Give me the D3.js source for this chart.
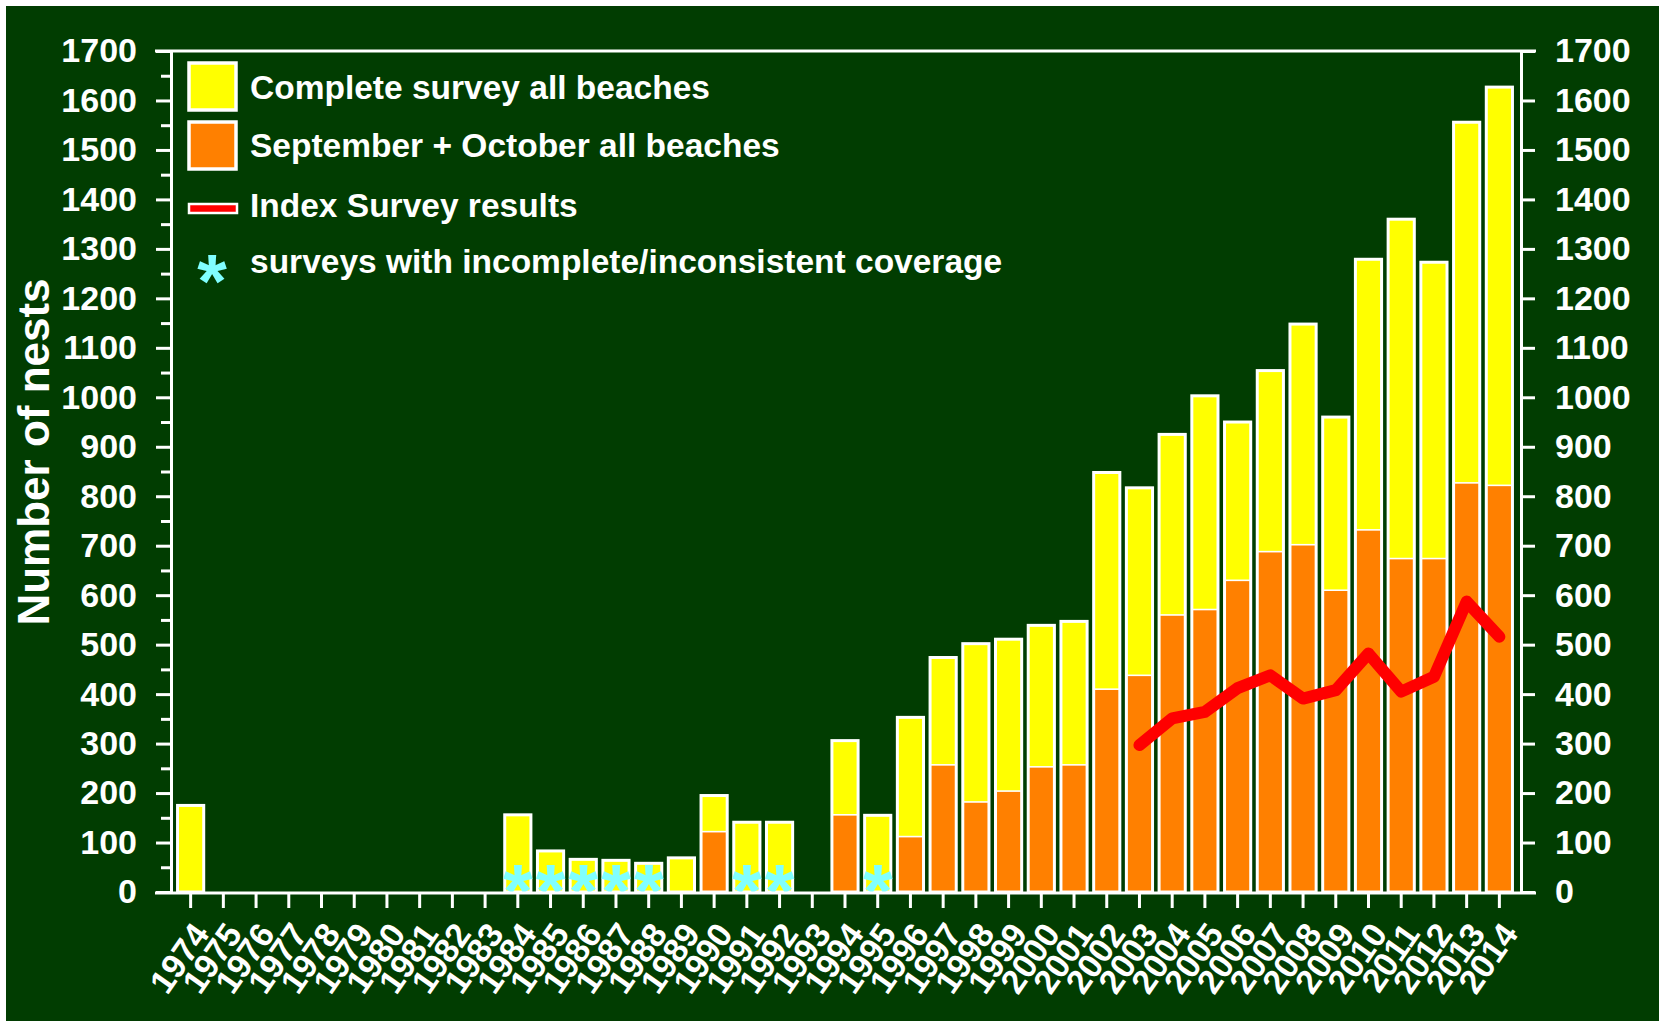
<!DOCTYPE html>
<html>
<head>
<meta charset="utf-8">
<script src="https://cdn.jsdelivr.net/npm/d3@7"></script>
<style>
  html, body { margin: 0; padding: 0; background: #ffffff; }
  svg { display: block; }
  text { font-family: "Liberation Sans", Arial, sans-serif; font-weight: bold; fill: #ffffff; }
</style>
</head>
<body>
<svg id="chart" width="1659" height="1021"></svg>
<script>
// ---------------- data ----------------
const years = d3.range(1974, 2015);
const completeSurvey = [
  175, 0, 0, 0, 0, 0, 0, 0, 0, 0,          // 1974-1983
  156, 83, 66, 64, 58, 69, 195, 141, 141, 0, // 1984-1993
  306, 155, 353, 474, 502, 511, 539, 547, 848, 817, // 1994-2003
  925, 1003, 950, 1054, 1148, 960, 1279, 1360, 1273, 1556, // 2004-2013
  1627 // 2014
];
const septOct = [
  0, 0, 0, 0, 0, 0, 0, 0, 0, 0,
  0, 0, 0, 0, 0, 0, 122, 0, 0, 0,
  156, 0, 112, 257, 182, 204, 253, 257, 410, 438,
  560, 571, 630, 688, 702, 610, 732, 674, 674, 827,
  822
];
const indexYears = [2003, 2004, 2005, 2006, 2007, 2008, 2009, 2010, 2011, 2012, 2013, 2014];
const indexValues = [297, 351, 364, 412, 438, 391, 408, 482, 405, 435, 587, 516];
const incompleteYears = [1984, 1985, 1986, 1987, 1988, 1991, 1992, 1995];
const yTicks = d3.range(0, 1701, 100);
const yMinorTicks = d3.range(50, 1700, 100);
const legendLabels = [
  "Complete survey all beaches",
  "September + October all beaches",
  "Index Survey results",
  "surveys with incomplete/inconsistent coverage"
];
const yTitle = "Number of nests";

// ---------------- layout ----------------
const BG = "#013d01", YELLOW = "#ffff00", ORANGE = "#ff8000", RED = "#ff0000", CYAN = "#80ffff";
const svg = d3.select("#chart");
svg.append("rect").attr("x", 6).attr("y", 6).attr("width", 1653).attr("height", 1015).attr("fill", BG);

const plotLeft = 171, plotRight = 1521, plotTop = 51, plotBottom = 892;
const x = d3.scaleBand().domain(years).range([171, 1519]).padding(0.2);
const y = d3.scaleLinear().domain([0, 1700]).range([plotBottom, plotTop]);

const rows = years.map((yr, i) => ({ year: yr, total: completeSurvey[i], so: septOct[i] }));
const bars = rows.filter(d => d.total > 0);

const g = svg.append("g");
g.selectAll("rect.tot").data(bars).join("rect").attr("class", "tot")
  .attr("x", d => x(d.year)).attr("width", x.bandwidth())
  .attr("y", d => y(d.total)).attr("height", d => y(0) - y(d.total))
  .attr("fill", YELLOW);
const so = bars.filter(d => d.so > 0);
g.selectAll("rect.so").data(so).join("rect").attr("class", "so")
  .attr("x", d => x(d.year)).attr("width", x.bandwidth())
  .attr("y", d => y(d.so)).attr("height", d => y(0) - y(d.so))
  .attr("fill", ORANGE);
g.selectAll("line.sep").data(so.filter(d => d.so < d.total)).join("line").attr("class", "sep")
  .attr("x1", d => x(d.year)).attr("x2", d => x(d.year) + x.bandwidth())
  .attr("y1", d => y(d.so)).attr("y2", d => y(d.so))
  .attr("stroke", "#fff").attr("stroke-width", 1.6);
g.selectAll("rect.out").data(bars).join("rect").attr("class", "out")
  .attr("x", d => x(d.year)).attr("width", x.bandwidth())
  .attr("y", d => y(d.total)).attr("height", d => y(0) - y(d.total))
  .attr("fill", "none").attr("stroke", "#fff").attr("stroke-width", 3);

g.selectAll("text.ast").data(incompleteYears).join("text").attr("class", "ast")
  .attr("x", d => x(d) + x.bandwidth() / 2).attr("y", y(0) + 25)
  .attr("text-anchor", "middle").style("font-size", "76px").style("fill", CYAN)
  .text("*");

const line = d3.line().x((d, i) => x(indexYears[i]) + x.bandwidth() / 2).y(d => y(d));
g.append("path").datum(indexValues).attr("d", line)
  .attr("fill", "none").attr("stroke", RED).attr("stroke-width", 12)
  .attr("stroke-linejoin", "round").attr("stroke-linecap", "round");

// ---------------- axes ----------------
const axG = svg.append("g");
const yl = axG.append("g").attr("transform", `translate(${plotLeft},0)`)
  .call(d3.axisLeft(y).tickValues(yTicks).tickSize(15).tickPadding(19).tickFormat(d3.format("d")));
yl.selectAll("text").style("font-size", "34px");
axG.append("g").attr("transform", `translate(${plotLeft},0)`)
  .call(d3.axisLeft(y).tickValues(yMinorTicks).tickSize(10).tickFormat(""))
  .select(".domain").remove();
const yrAx = axG.append("g").attr("transform", `translate(${plotRight},0)`)
  .call(d3.axisRight(y).tickValues(yTicks).tickSize(14).tickPadding(20).tickFormat(d3.format("d")));
yrAx.selectAll("text").style("font-size", "34px");
const xb = axG.append("g").attr("transform", `translate(0,${plotBottom + 1})`)
  .call(d3.axisBottom(x).tickSize(15).tickFormat(d => d));
xb.select(".domain").remove();
xb.selectAll("text")
  .attr("text-anchor", "end").attr("dy", null).attr("y", null)
  .attr("transform", "translate(20,41) rotate(-55)")
  .style("font-size", "34px");
axG.selectAll(".domain").attr("stroke", "#fff").attr("stroke-width", 3);
axG.selectAll(".tick line").attr("stroke", "#fff").attr("stroke-width", 3);
axG.append("line").attr("x1", 155).attr("x2", 1536).attr("y1", y(1700)).attr("y2", y(1700))
  .attr("stroke", "#fff").attr("stroke-width", 3);
axG.append("line").attr("x1", 155).attr("x2", 1536).attr("y1", plotBottom + 1).attr("y2", plotBottom + 1)
  .attr("stroke", "#fff").attr("stroke-width", 3);

svg.append("text").attr("transform", "translate(49,452) rotate(-90)")
  .attr("text-anchor", "middle").style("font-size", "44px").text(yTitle);

// ---------------- legend ----------------
const lg = svg.append("g");
lg.append("rect").attr("x", 189).attr("y", 63).attr("width", 47).attr("height", 47)
  .attr("fill", YELLOW).attr("stroke", "#fff").attr("stroke-width", 3.5);
lg.append("rect").attr("x", 189).attr("y", 122).attr("width", 47).attr("height", 47)
  .attr("fill", ORANGE).attr("stroke", "#fff").attr("stroke-width", 3.5);
lg.append("rect").attr("x", 189).attr("y", 204).attr("width", 48).attr("height", 9)
  .attr("fill", RED).attr("stroke", "#fff").attr("stroke-width", 2.5);
lg.append("text").attr("x", 212).attr("y", 307).attr("text-anchor", "middle")
  .style("font-size", "76px").style("fill", CYAN).text("*");
const ly = [99, 157, 217, 273];
lg.selectAll("text.lbl").data(legendLabels).join("text").attr("class", "lbl")
  .attr("x", 250).attr("y", (d, i) => ly[i]).style("font-size", "33.5px").text(d => d);
</script>
</body>
</html>
